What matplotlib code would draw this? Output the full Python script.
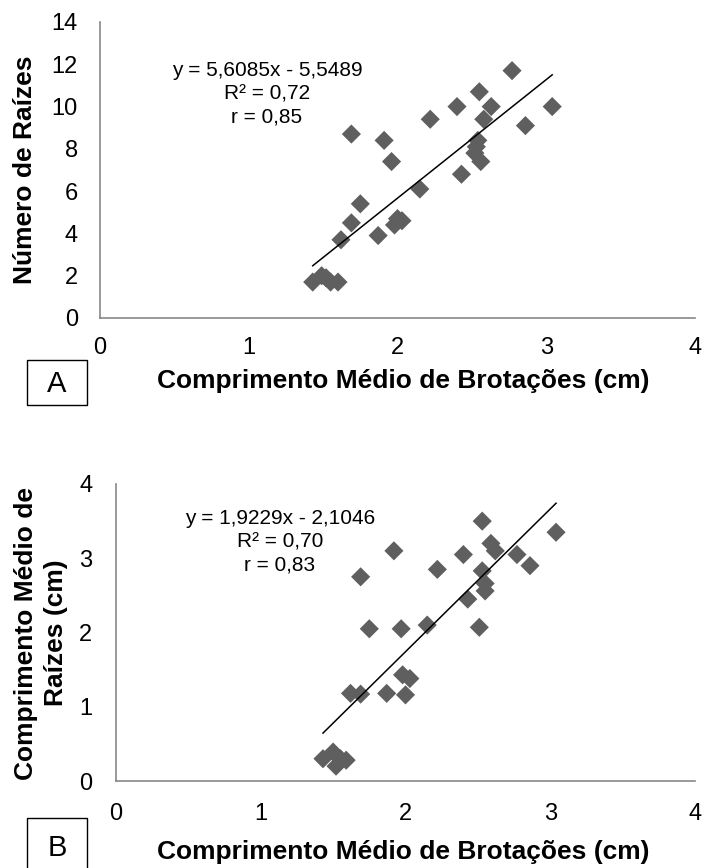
import matplotlib
matplotlib.use("Agg")
import matplotlib.pyplot as plt
from matplotlib.patches import Rectangle
import numpy as np

plt.rcParams['font.family'] = ['Liberation Sans', 'DejaVu Sans']

# Chart A: number of roots vs mean shoot length
x_a = [1.43, 1.49, 1.52, 1.55, 1.60, 1.62, 1.69, 1.75, 1.69, 1.87, 1.91, 1.96, 1.98, 2.00,
       2.03, 2.15, 2.22, 2.40, 2.43, 2.54, 2.53, 2.52, 2.56, 2.55, 2.58, 2.63, 2.77, 2.86, 3.04]
y_a = [1.7, 2.0, 1.9, 1.7, 1.7, 3.7, 4.5, 5.4, 8.7, 3.9, 8.4, 7.4, 4.4, 4.7,
       4.6, 6.1, 9.4, 10.0, 6.8, 8.4, 8.1, 7.8, 7.4, 10.7, 9.4, 10.0, 11.7, 9.1, 10.0]
coef_a = (5.6085, -5.5489)
text_a = ["y = 5,6085x - 5,5489", "R² = 0,72", "r = 0,85"]

# Chart B: mean root length vs mean shoot length
x_b = [1.43, 1.50, 1.52, 1.55, 1.59, 1.62, 1.69, 1.75, 1.69, 1.87, 1.92, 1.97, 1.98, 2.00,
       2.03, 2.15, 2.22, 2.40, 2.43, 2.51, 2.53, 2.55, 2.55, 2.53, 2.59, 2.62, 2.77, 2.86, 3.04]
y_b = [0.30, 0.39, 0.20, 0.30, 0.28, 1.18, 1.17, 2.05, 2.75, 1.18, 3.10, 2.05, 1.43, 1.16,
       1.38, 2.10, 2.85, 3.05, 2.45, 2.07, 2.83, 2.66, 2.56, 3.50, 3.20, 3.10, 3.05, 2.90, 3.35]
coef_b = (1.9229, -2.1046)
text_b = ["y = 1,9229x - 2,1046", "R² = 0,70", "r = 0,83"]

xlabel = "Comprimento Médio de Brotações (cm)"

W, H = 702, 868
fig = plt.figure(figsize=(W / 100, H / 100), dpi=100)


def fx(px):
    return px / W


def fy(py):
    return 1 - py / H


def make_axes(left, right, top, bottom, ymax, xs, ys, coef, lines, text_x, text_y, xpad, ypad):
    ax = fig.add_axes([fx(left), fy(bottom), fx(right) - fx(left), fy(top) - fy(bottom)])
    ax.scatter(xs, ys, marker='D', s=95, color='#5f5f5f', edgecolors='none', zorder=2)
    lx = np.array([min(xs), max(xs)])
    ax.plot(lx, coef[0] * lx + coef[1], color='black', lw=1.1, zorder=3)
    ax.set_xlim(0, 4)
    ax.set_ylim(0, ymax)
    ax.set_xticks(range(0, 5))
    for s in ['top', 'right']:
        ax.spines[s].set_visible(False)
    for s in ['left', 'bottom']:
        ax.spines[s].set_color('#878787')
        ax.spines[s].set_linewidth(1.2)
    ax.tick_params(axis='both', length=0, labelsize=17)
    ax.tick_params(axis='x', pad=xpad)
    ax.tick_params(axis='y', pad=ypad)
    for i, t in enumerate(lines):
        fig.text(fx(text_x), fy(text_y + i * 23.5), t, fontsize=15, ha='center', va='center')
    return ax


ax_a = make_axes(100, 695, 22, 318, 14, x_a, y_a, coef_a, text_a, 267, 70, 14, 16)
ax_a.set_yticks(range(0, 15, 2))
ax_b = make_axes(116, 695, 484, 781, 4, x_b, y_b, coef_b, text_b, 280, 518, 16, 17)
ax_b.set_yticks(range(0, 5))

# axis titles
fig.text(fx(403), fy(381), xlabel, fontsize=19, fontweight='bold', ha='center', va='center')
fig.text(fx(403), fy(852), xlabel, fontsize=19, fontweight='bold', ha='center', va='center')
fig.text(fx(25), fy(170), "Número de Raízes", fontsize=19, fontweight='bold',
         rotation=90, ha='center', va='center')
fig.text(fx(41), fy(633), "Comprimento Médio de\nRaízes (cm)", fontsize=19, fontweight='bold',
         rotation=90, ha='center', va='center', multialignment='center', linespacing=1.3)

# panel letters in boxes
for top, bot, cy, letter in [(360, 405, 384, "A"), (818, 875, 848, "B")]:
    fig.add_artist(Rectangle((fx(27), fy(bot)), fx(87) - fx(27), fy(top) - fy(bot),
                             transform=fig.transFigure, fill=False, edgecolor='black', lw=1.0))
    fig.text(fx(57), fy(cy), letter, fontsize=21, ha='center', va='center')

fig.savefig("out.png", dpi=100)
